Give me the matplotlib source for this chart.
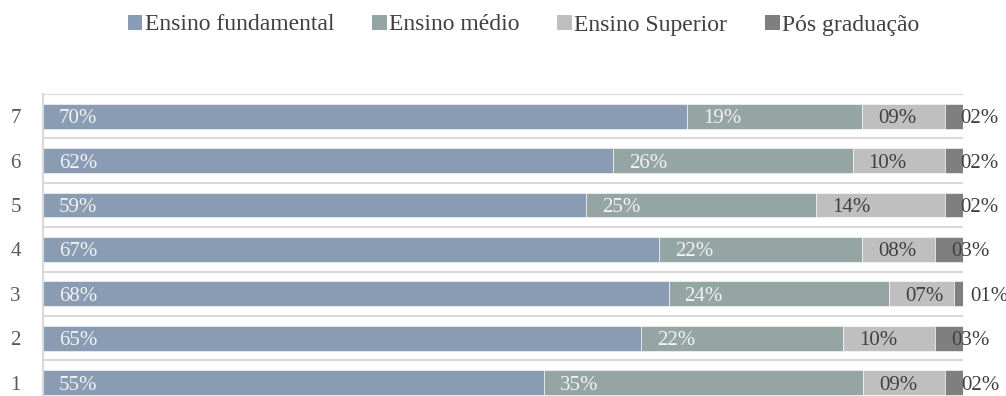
import matplotlib
matplotlib.use("Agg")
import matplotlib.pyplot as plt
import numpy as np

# Share of each education level per group (percent)
categories = ["1", "2", "3", "4", "5", "6", "7"]
series_names = ["Ensino fundamental", "Ensino médio", "Ensino Superior", "Pós graduação"]
fundamental = [55, 65, 68, 67, 59, 62, 70]
medio = [35, 22, 24, 22, 25, 26, 19]
superior = [9, 10, 7, 8, 14, 10, 9]
pos_grad = [2, 3, 1, 3, 2, 2, 2]

colors = ["#8A9CB4", "#95A5A3", "#BFBFBF", "#7F7F7F"]
label_colors = ["#F2F2F2", "#F2F2F2", "#404040", "#404040"]

plt.rcParams["font.family"] = ["Liberation Serif", "DejaVu Serif"]

W, H = 1006, 396
fig = plt.figure(figsize=(W / 100, H / 100), dpi=100)
ax = fig.add_axes([43 / W, 0, (963 - 43) / W, (H - 94) / H])

data = np.array([fundamental, medio, superior, pos_grad], dtype=float)
totals = data.sum(axis=0)
shares = data / totals  # 100% stacked
y = np.arange(1, len(categories) + 1)

left = np.zeros(len(categories))
for i, name in enumerate(series_names):
    ax.barh(y, shares[i], left=left, height=0.56, color=colors[i],
            edgecolor="white", linewidth=0.4, label=name, zorder=2)
    for yy, l, v in zip(y, left, data[i]):
        ax.annotate(f"{int(v):02d}%", xy=(l, yy), xytext=(11.5, 0),
                    textcoords="offset points", ha="left", va="center_baseline",
                    fontsize=15, color=label_colors[i], zorder=3,
                    annotation_clip=False)
    left += shares[i]

ax.set_xlim(0, 1)
ax.set_ylim(0.70, 7.5)
ax.set_yticks(y)
ax.set_yticklabels(categories)
ax.tick_params(axis="y", length=0, pad=16, labelsize=15, labelcolor="#595959")
ax.set_xticks([])

# category boundary lines
for b in np.arange(0.5, 7.6, 1.0):
    ax.axhline(b, color="#D9D9D9", linewidth=1.5, zorder=1)

for s in ["top", "right", "bottom"]:
    ax.spines[s].set_visible(False)
ax.spines["left"].set_color("#D9D9D9")
ax.spines["left"].set_linewidth(1.5)

leg = fig.legend(loc="center", bbox_to_anchor=(523.5 / W, 1 - 25 / H), ncol=4,
                 frameon=False, fontsize=17, handlelength=0.62, handleheight=0.6,
                 handletextpad=0.1, columnspacing=1.6, borderpad=0)
for t in leg.get_texts():
    t.set_color("#404040")
for h in leg.legend_handles:
    h.set_linewidth(0)

fig.savefig("out.png", dpi=100)
